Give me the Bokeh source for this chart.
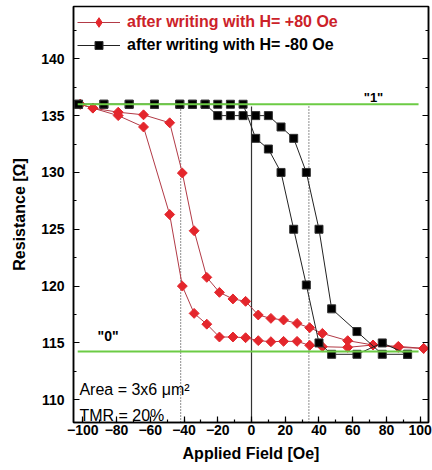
import numpy as np
from bokeh.plotting import figure
from bokeh.models import Range1d, SingleIntervalTicker, LinearAxis, Legend, LegendItem, Label
from bokeh.embed import file_html
from bokeh.resources import INLINE

# ---- data ----
red_field = [-101.5, -94, -79, -64, -48.5, -41, -34, -26.5, -19, -11, -3.5, 4, 11.5, 19, 27, 34.5, 42, 57, 72, 87, 102]
red_upper = [136.0, 135.66, 135.3, 135.07, 134.37, 129.95, 124.87, 120.77, 119.45, 118.87, 118.66, 117.46, 117.16,
             117.02, 116.72, 116.34, 115.84, 115.2, 114.82, 114.61, 114.52]
red_lower = [136.0, 135.66, 135.0, 134.0, 126.3, 120.0, 117.6, 116.65, 115.52, 115.52, 115.46, 115.2, 115.11,
             115.14, 115.14, 114.79, 114.67, 114.61, 114.82, 114.7, 114.52]

black_field = [-102.5, -87.5, -72.5, -57.5, -42.5, -35, -27.5, -20, -12.5, -5, 2.5, 10, 17.5, 25, 32.5, 40, 47.5,
               62.5, 77.5, 92.5]
black_right = [136, 136, 136, 136, 136, 136, 136, 135, 135, 135, 135, 135, 134, 133, 130, 125, 118, 116, 114, 114]
black_left = [136, 136, 136, 136, 136, 136, 136, 136, 136, 136, 133, 132.06, 130, 125, 120.1, 115, 114, 114, 115, 114]

level_one = 136.0
level_zero = 114.25
green_span = [-103, 99]
switch_fields = [-42, 34]
zero_field = 0
guide_bottom = 108
guide_top = 135.8

legend_labels = ["after writing with H= +80 Oe", "after writing with H= -80 Oe"]

FONT = "Liberation Sans"
RED = "#e4262c"
RED_LINE = "#b23a46"
RED_TEXT = "#cc2229"
GREEN = "#6ccb45"

p = figure(width=432, height=470, frame_width=355, frame_height=416,
           min_border_left=73, min_border_right=4, min_border_top=6, min_border_bottom=48,
           x_range=Range1d(-105.5, 104.9), y_range=Range1d(108, 144.6),
           output_backend="svg", toolbar_location=None)
p.background_fill_color = "white"
p.border_fill_color = "white"
p.grid.visible = False
p.outline_line_color = "black"
p.outline_line_width = 1.5

for ax in (p.xaxis[0], p.yaxis[0]):
    ax.axis_line_width = 1.5
    ax.major_tick_in = 6
    ax.major_tick_out = 0
    ax.minor_tick_in = 3
    ax.minor_tick_out = 0
    ax.major_tick_line_width = 1.2
    ax.minor_tick_line_width = 1.2
    ax.major_label_text_font = FONT
    ax.major_label_text_font_style = "bold"
    ax.major_label_text_font_size = "14px"
    ax.major_label_text_color = "black"
    ax.axis_label_text_font = FONT
    ax.axis_label_text_font_style = "bold"
    ax.axis_label_text_font_size = "16px"
    ax.axis_label_text_color = "black"

p.xaxis.ticker = SingleIntervalTicker(interval=20, num_minor_ticks=2)
p.yaxis.ticker = SingleIntervalTicker(interval=5, num_minor_ticks=2)
p.xaxis.axis_label = "Applied Field [Oe]"
p.yaxis.axis_label = "Resistance [Ω]"
p.xaxis.major_label_standoff = 2
p.xaxis.axis_label_standoff = 7
p.yaxis.major_label_standoff = 9
p.yaxis.axis_label_standoff = 10

right = LinearAxis(ticker=SingleIntervalTicker(interval=5, num_minor_ticks=2),
                   major_label_text_font_size="0px", axis_line_width=1.5,
                   major_tick_in=6, major_tick_out=0, minor_tick_in=3, minor_tick_out=0,
                   major_tick_line_width=1.2, minor_tick_line_width=1.2)
p.add_layout(right, "right")

# guide lines
p.segment(x0=[zero_field], y0=[guide_bottom], x1=[zero_field], y1=[guide_top], line_color="#333333", line_width=1.2)
p.segment(x0=switch_fields, y0=[guide_bottom] * 2, x1=switch_fields, y1=[guide_top] * 2,
          line_color="#444444", line_width=1.2, line_dash="1 2")

# data
rl_u = p.line(red_field, red_upper, line_color=RED_LINE, line_width=1)
rl_l = p.line(red_field, red_lower, line_color=RED_LINE, line_width=1)
rp_u = p.scatter(red_field, red_upper, marker="square", angle=np.pi / 4, size=7, fill_color=RED, line_color=RED)
rp_l = p.scatter(red_field, red_lower, marker="square", angle=np.pi / 4, size=7, fill_color=RED, line_color=RED)
# legend-only key (not drawn in the plot area)
red_key = p.scatter(red_field, red_upper, marker="diamond", fill_color=RED, line_color=RED, visible=False)

bl_r = p.line(black_field, black_right, line_color="#222222", line_width=1)
bl_l = p.line(black_field, black_left, line_color="#222222", line_width=1)
bp_r = p.scatter(black_field, black_right, marker="square", size=8, fill_color="black", line_color="#333333")
bp_l = p.scatter(black_field, black_left, marker="square", size=8, fill_color="black", line_color="#333333")

# level lines
p.segment(x0=[green_span[0]] * 2, y0=[level_one, level_zero], x1=[green_span[1]] * 2, y1=[level_one, level_zero],
          line_color=GREEN, line_width=2)

# labels
p.add_layout(Label(x=72.3, y=136.6, text='"1"', text_font=FONT, text_font_style="bold", text_font_size="13px",
                   text_color="black", text_align="center", text_baseline="middle"))
p.add_layout(Label(x=-85, y=115.6, text='"0"', text_font=FONT, text_font_style="bold", text_font_size="14px",
                   text_color="black", text_align="center", text_baseline="middle"))
p.add_layout(Label(x=-102, y=110.9, text="Area = 3x6 μm²", text_font=FONT, text_font_size="16px",
                   text_color="black", text_align="left", text_baseline="middle"))
p.add_layout(Label(x=-102, y=108.6, text="TMR = 20%", text_font=FONT, text_font_size="16px",
                   text_color="black", text_align="left", text_baseline="middle"))


def make_legend(label, renderers, loc, color, gh):
    return Legend(items=[LegendItem(label=label, renderers=renderers)], location=loc,
                  padding=0, margin=0, spacing=0, glyph_width=43, glyph_height=gh, label_height=gh,
                  label_standoff=7, border_line_color=None, background_fill_alpha=0,
                  label_text_font=FONT, label_text_font_style="bold", label_text_font_size="16px",
                  label_text_color=color, label_text_baseline="middle")


p.add_layout(make_legend(legend_labels[0], [rl_u, red_key], (4, 388), RED_TEXT, 24))
p.add_layout(make_legend(legend_labels[1], [bl_r, bp_r], (4, 367), "black", 20))

open("out.html", "w").write(file_html(p, INLINE))
